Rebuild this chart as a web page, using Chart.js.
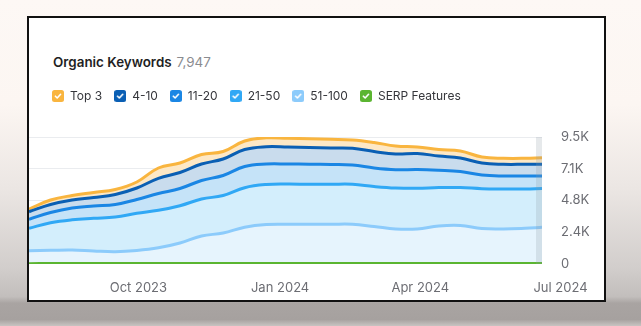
<!DOCTYPE html>
<html>
<head>
<meta charset="utf-8">
<script src="https://cdn.jsdelivr.net/npm/chart.js@4.4.1/dist/chart.umd.min.js"></script>
<style>
  html, body { margin: 0; padding: 0; }
  body {
    width: 641px; height: 326px; position: relative; overflow: hidden;
    background: linear-gradient(180deg, #fdf8f5 0%, #fcf6f2 32%, #ebe6e3 58%, #d2cecc 82%, #c2bebc 91%, #a9a4a2 93%, #a6a19f 98%, #c8c4c2 100%);
    font-family: Inter, "Noto Sans", sans-serif;
  }
  #card {
    position: absolute; left: 27px; top: 16px; width: 575px; height: 282px;
    border: 2px solid #111; background: #fff;
  }
  #title { position: absolute; left: 24px; top: 35px; font-size: 13.4px; line-height: 18px; white-space: nowrap; }
  #title b { font-weight: 600; color: #1f1f24; }
  #title span { color: #8a8b90; margin-left: 5px; }
  canvas { position: absolute; left: 0; top: 0; }
</style>
</head>
<body>
<div id="card">
  <div id="title"><b>Organic Keywords</b><span>7,947</span></div>
  <canvas id="myChart" width="575" height="282"></canvas>
</div>
<script>
// dates of the points (every two weeks)
const dates = ['2023-07-22','2023-08-05','2023-08-19','2023-09-02','2023-09-16','2023-09-30',
  '2023-10-14','2023-10-28','2023-11-11','2023-11-25','2023-12-09','2023-12-23',
  '2024-01-06','2024-01-20','2024-02-03','2024-02-17','2024-03-02','2024-03-16',
  '2024-03-30','2024-04-13','2024-04-27','2024-05-11','2024-05-25','2024-06-08','2024-06-19'];

// keywords per position group
const top3    = [202,336,337,374,374,449,771,711,711,561,635,666,650,651,651,621,673,598,487,487,523,449,448,448,489];
const pos4_10 = [568,599,598,636,748,860,1137,1197,1234,1234,1272,1294,1272,1249,1234,1249,1234,1174,1196,1062,1010,898,876,876,876];
const pos11_20 = [674,770,883,920,935,1033,1256,1286,1384,1496,1586,1533,1496,1503,1481,1443,1384,1369,1407,1294,1197,1025,972,972,935];
const pos21_50 = [1675,2057,2259,2446,2596,2782,2805,2790,2768,2805,2954,2992,3007,2992,2992,2992,2992,3067,3044,2880,2842,2984,2992,2940,2902];
const pos51_100 = [995,1025,1047,972,920,1010,1212,1571,2094,2319,2753,2955,2977,2970,2970,2970,2805,2618,2618,2842,2880,2648,2618,2670,2745];
const serp    = [28,30,31,30,29,30,32,33,35,36,38,40,41,40,41,40,39,38,38,39,40,39,38,38,39];

const xTickDates = ['2023-10-01','2024-01-01','2024-04-01','2024-07-01'];
const xTickLabels = ['Oct 2023','Jan 2024','Apr 2024','Jul 2024'];
const yTicks = [0, 2375, 4750, 7125, 9500];
const yTickLabels = ['0','2.4K','4.8K','7.1K','9.5K'];

const day = s => Date.parse(s) / 864e5;
const pts = arr => arr.map((v, i) => ({x: day(dates[i]), y: v}));

// little checkbox icons for the legend
checkBox = (color) => {
  const c = document.createElement('canvas');
  c.width = 12; c.height = 12;
  const g = c.getContext('2d');
  g.fillStyle = color;
  g.beginPath(); g.roundRect(0, 0, 12, 12, 2.5); g.fill();
  g.strokeStyle = '#fff'; g.lineWidth = 1.6; g.lineCap = 'round'; g.lineJoin = 'round';
  g.beginPath(); g.moveTo(3.4, 6.2); g.lineTo(5.2, 8); g.lineTo(8.6, 4.3); g.stroke();
  return c;
}

const series = (label, data, line, fill, fillMode, stack) => ({
  label: label, data: pts(data), stack: stack,
  borderColor: line, backgroundColor: fill, fill: fillMode,
  borderWidth: 3, pointRadius: 0, pointHoverRadius: 0, tension: 0.4,
  pointStyle: checkBox(line)
});

// legend sits a bit to the right and leaves room above the plot
const legendTweak = {
  id: 'legendTweak',
  beforeInit(chart) {
    const fit = chart.legend.fit;
    chart.legend.fit = function() { fit.call(this); this.height += 25; };
  },
  afterLayout(chart) { chart.legend.left += 11; chart.legend.right += 11; }
};

// grey band over the last point
const lastBand = {
  id: 'lastBand',
  afterDatasetsDraw(chart) {
    const x = chart.scales.x.getPixelForValue(day(dates[dates.length - 1]));
    const a = chart.chartArea;
    const c = chart.ctx;
    c.save();
    c.fillStyle = 'rgba(140,155,165,0.22)';
    c.fillRect(x - 6, a.top, 6, a.bottom - a.top);
    c.restore();
  }
};

const ctx = document.getElementById('myChart').getContext('2d');
new Chart(ctx, {
  type: 'line',
  data: {
    datasets: [
      series('SERP Features', serp, '#5bb531', '#5bb531', false, 'serp'),
      series('51-100', pos51_100, '#8ccbfb', '#e6f4fd', 'origin', 'kw'),
      series('21-50', pos21_50, '#30a8f5', '#d3eefc', '-1', 'kw'),
      series('11-20', pos11_20, '#1a86e4', '#c5e3f8', '-1', 'kw'),
      series('4-10', pos4_10, '#0a5fb4', '#c9dced', '-1', 'kw'),
      series('Top 3', top3, '#f9b53f', '#fde8c6', '-1', 'kw')
    ]
  },
  plugins: [legendTweak, lastBand],
  options: {
    responsive: false,
    animation: false,
    layout: { padding: { top: 60, right: 15, bottom: 0, left: 0 } },
    plugins: {
      legend: {
        align: 'start',
        reverse: true,
        labels: {
          usePointStyle: true, boxWidth: 12, boxHeight: 12, padding: 12,
          color: '#35363b', font: { family: 'Inter', size: 12 }
        }
      },
      tooltip: { enabled: false }
    },
    scales: {
      x: {
        type: 'linear',
        min: day(dates[0]), max: day(dates[dates.length - 1]),
        grid: { display: false, drawTicks: false },
        border: { display: false },
        afterBuildTicks: s => { s.ticks = xTickDates.map(d => ({value: day(d)})); },
        afterFit: s => { s.paddingLeft = 0; s.paddingRight = 0; s.height = 36; },
        ticks: {
          autoSkip: false, maxRotation: 0, padding: 16.7, color: '#6c6d73',
          font: { family: 'Inter', size: 13 },
          callback: (v, i) => xTickLabels[i]
        }
      },
      y: {
        position: 'right',
        stacked: true,
        min: 0, max: 9500,
        z: 1,
        grid: {
          color: c => c.tick && c.tick.value === 0 ? 'rgba(0,0,0,0)' : 'rgba(90,110,130,0.13)',
          lineWidth: 1, drawTicks: false
        },
        border: { display: false },
        afterBuildTicks: s => { s.ticks = yTicks.map(v => ({value: v})); },
        afterFit: s => { s.width = 47; },
        ticks: {
          padding: 19, color: '#6c6d73',
          font: { family: 'Inter', size: 13 },
          callback: (v, i) => yTickLabels[i]
        }
      }
    }
  }
});
</script>
</body>
</html>
